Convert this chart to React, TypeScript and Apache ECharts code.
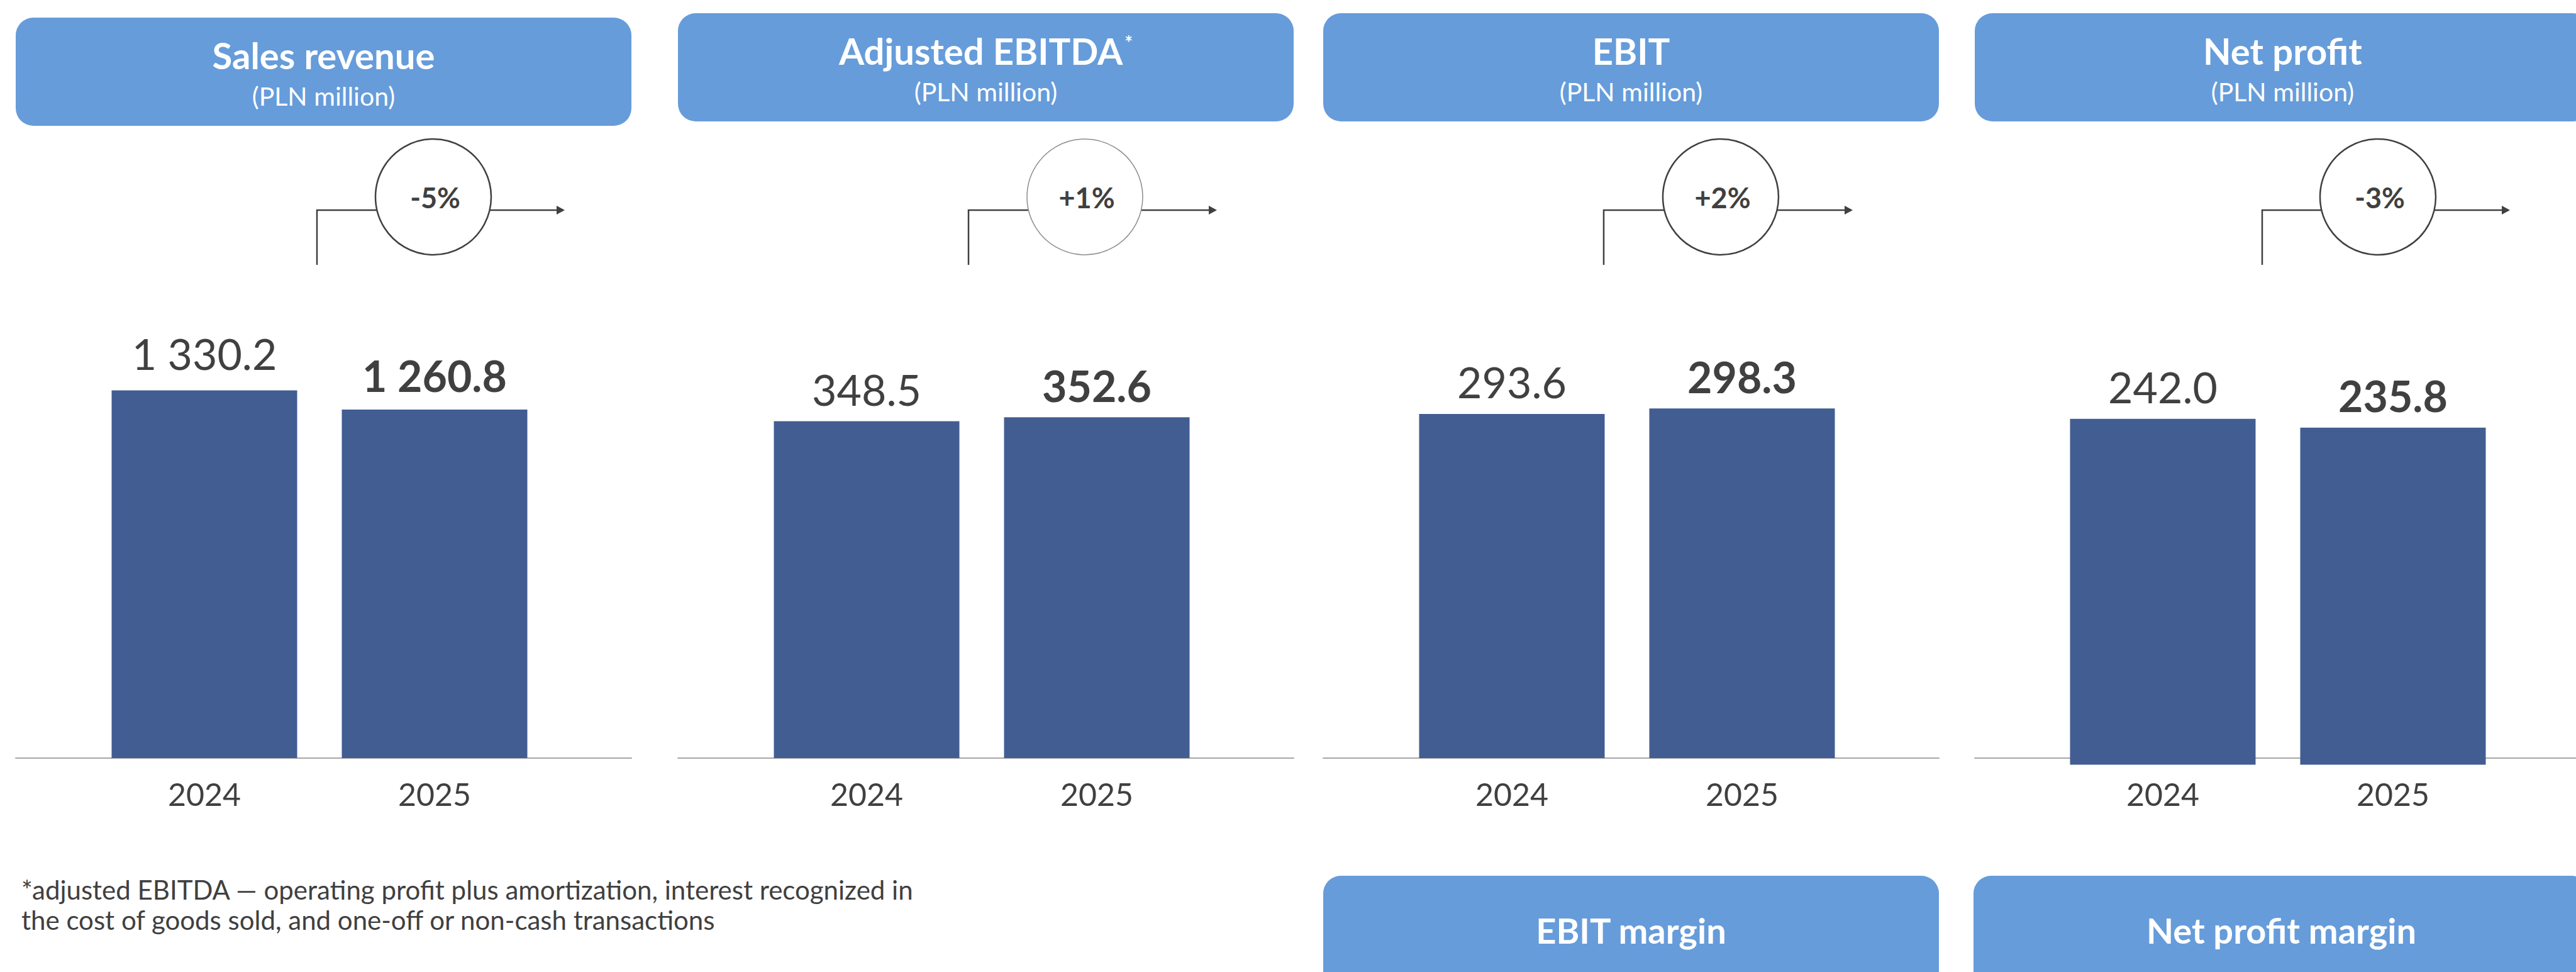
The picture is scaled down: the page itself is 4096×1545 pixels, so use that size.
import React, { useEffect, useRef } from 'react';
import * as echarts from 'echarts';

// ---------- data ----------
const years = ['2024', '2025'];
const salesRevenue = [1330.2, 1260.8];
const adjustedEbitda = [348.5, 352.6];
const ebit = [293.6, 298.3];
const netProfit = [242.0, 235.8];
const titles = ['Sales revenue', 'Adjusted EBITDA', 'EBIT', 'Net profit'];
const subtitle = '(PLN million)';
const changes = ['-5%', '+1%', '+2%', '-3%'];
const marginTitles = ['EBIT margin', 'Net profit margin'];
const footnoteLines = [
  '*adjusted EBITDA \u2014 operating profit plus amortization, interest recognized in',
  'the cost of goods sold, and one-off or non-cash transactions',
];

// ---------- styles & layout ----------
const W = 4096;
const H = 1545;
const FONT = 'Lato';
const TEXT = '#404040';
const HEADER = '#669CDA';
const BAR = '#425D92';
const AXIS = '#A6A6A6';
const PANEL_W = 979;
const GRID_W = 732;
const GRID_TOP = 400;
const AXIS_Y = 1205;
const LINE_Y = 334;
const CIRCLE_Y = 313;
const CIRCLE_R = 92;

const seriesValues = [salesRevenue, adjustedEbitda, ebit, netProfit];
const layout = [
  { left: 25, headerTop: 28, gridLeft: 142, bracketX: 504, circleX: 689, arrowX: 898, yMax: 1832, base: 1205, stroke: TEXT, sw: 2.5, gap0: 25 },
  { left: 1078, headerTop: 21, gridLeft: 1195, bracketX: 1540, circleX: 1725, arrowX: 1935, yMax: 524, base: 1205, stroke: '#8C8C8C', sw: 1.5, gap0: 17 },
  { left: 2104, headerTop: 21, gridLeft: 2221, bracketX: 2550, circleX: 2736, arrowX: 2946, yMax: 432, base: 1205, stroke: TEXT, sw: 2.5, gap0: 17 },
  { left: 3140, headerTop: 21, gridLeft: 3256, bracketX: 3597, circleX: 3781, arrowX: 3991, yMax: 359, base: 1215.5, stroke: TEXT, sw: 2.5, gap0: 17 },
];

const fmt = (v: number) => {
  const [i, d] = v.toFixed(1).split('.');
  return i.replace(/\B(?=(\d{3})+(?!\d))/g, ' ') + '.' + d;
};

function textEl(x: number, y: number, text: string, size: number, weight: any, fill: string, align = 'center', z = 20, extra: any = {}) {
  return {
    type: 'text',
    x,
    y,
    z,
    style: {
      text,
      fill,
      fontFamily: FONT,
      fontSize: size,
      fontWeight: weight,
      align,
      verticalAlign: 'middle',
      textAlign: align,
      textVerticalAlign: 'middle',
      ...extra,
    },
  };
}

function buildOption() {
  const grid: any[] = [];
  const xAxis: any[] = [];
  const yAxis: any[] = [];
  const series: any[] = [];
  const graphic: any[] = [];

  layout.forEach((p, i) => {
    grid.push({ left: p.gridLeft, width: GRID_W, top: GRID_TOP, bottom: H - p.base });
    xAxis.push({
      gridIndex: i,
      type: 'category',
      data: years,
      axisLine: { show: false },
      axisTick: { show: false },
      axisLabel: {
        margin: 1262 - p.base,
        verticalAlign: 'middle',
        fontFamily: FONT,
        fontSize: 50,
        color: TEXT,
      },
    });
    yAxis.push({ gridIndex: i, type: 'value', min: 0, max: p.yMax, show: false });
    series.push({
      type: 'bar',
      xAxisIndex: i,
      yAxisIndex: i,
      barWidth: 295,
      itemStyle: { color: BAR },
      label: {
        show: true,
        position: 'top',
        fontFamily: FONT,
        fontSize: 68,
        color: TEXT,
        formatter: (prm: any) => fmt(prm.value),
      },
      data: seriesValues[i].map((v, j) => ({
        value: v,
        label: { fontWeight: j === 1 ? 'bold' : 'normal', distance: j === 0 ? p.gap0 : (i === 0 ? 20 : 17) },
      })),
    });
  });

  // full-width baselines
  layout.forEach((p, i) => {
    grid.push({ left: p.left, width: PANEL_W, top: GRID_TOP, bottom: H - AXIS_Y });
    xAxis.push({
      gridIndex: 4 + i,
      type: 'value',
      min: 0,
      max: 1,
      axisLine: { show: true, onZero: false, lineStyle: { color: AXIS, width: 2 } },
      axisTick: { show: false },
      axisLabel: { show: false },
      splitLine: { show: false },
    });
    yAxis.push({ gridIndex: 4 + i, type: 'value', min: 0, max: 1, show: false });
  });

  // headers, change circles, brackets
  layout.forEach((p, i) => {
    graphic.push({
      type: 'rect',
      z: 1,
      shape: { x: p.left, y: p.headerTop, width: PANEL_W, height: 172, r: 28 },
      style: { fill: HEADER },
    });
    const cx = p.left + PANEL_W / 2;
    if (i === 1) {
      graphic.push(
        textEl(cx, p.headerTop + 59.5, '{t|' + titles[i] + '}{s|*}', 58, 'bold', '#fff', 'center', 20, {
          rich: {
            t: { fontFamily: FONT, fontSize: 58, fontWeight: 'bold', fill: '#fff', color: '#fff', verticalAlign: 'middle' },
            s: { fontFamily: FONT, fontSize: 30, fontWeight: 'bold', fill: '#fff', color: '#fff', verticalAlign: 'top', padding: [0, 0, 0, 3] },
          },
        })
      );
    } else {
      graphic.push(textEl(cx, p.headerTop + 59.5, titles[i], 58, 'bold', '#fff'));
    }
    graphic.push(textEl(cx, p.headerTop + 124, subtitle, 41, 'normal', '#fff'));

    graphic.push({
      type: 'polyline',
      z: 5,
      shape: { points: [[p.bracketX, 421], [p.bracketX, LINE_Y], [p.arrowX - 10, LINE_Y]] },
      style: { stroke: TEXT, lineWidth: 2.5, fill: 'none' },
    });
    graphic.push({
      type: 'polygon',
      z: 5,
      shape: { points: [[p.arrowX - 13, LINE_Y - 7], [p.arrowX, LINE_Y], [p.arrowX - 13, LINE_Y + 7]] },
      style: { fill: TEXT },
    });
    graphic.push({
      type: 'circle',
      z: 10,
      shape: { cx: p.circleX, cy: CIRCLE_Y, r: CIRCLE_R },
      style: { fill: '#ffffff', stroke: p.stroke, lineWidth: p.sw },
    });
    graphic.push(textEl(p.circleX + 3, CIRCLE_Y + 1, changes[i], 45, 'bold', TEXT, 'center', 11));
  });

  // bottom margin boxes
  [2104, 3138].forEach((x, k) => {
    graphic.push({
      type: 'rect',
      z: 1,
      shape: { x, y: 1392, width: PANEL_W, height: 300, r: 28 },
      style: { fill: HEADER },
    });
    graphic.push(textEl(x + PANEL_W / 2, 1478, marginTitles[k], 56, 'bold', '#fff'));
  });

  // footnote
  footnoteLines.forEach((line, k) => {
    graphic.push(textEl(34, 1414 + k * 48, line, 42, 'normal', TEXT, 'left'));
  });

  return {
    animation: false,
    backgroundColor: '#ffffff',
    textStyle: { fontFamily: FONT },
    grid,
    xAxis,
    yAxis,
    series,
    graphic,
  };
}

export default function App() {
  const ref = useRef<HTMLDivElement>(null);
  useEffect(() => {
    document.body.style.margin = '0';
    if (!ref.current) return;
    const chart = echarts.init(ref.current, undefined, { renderer: 'svg', width: W, height: H });
    chart.setOption(buildOption() as any);
    return () => chart.dispose();
  }, []);
  return <div ref={ref} style={{ width: W, height: H }} />;
}
